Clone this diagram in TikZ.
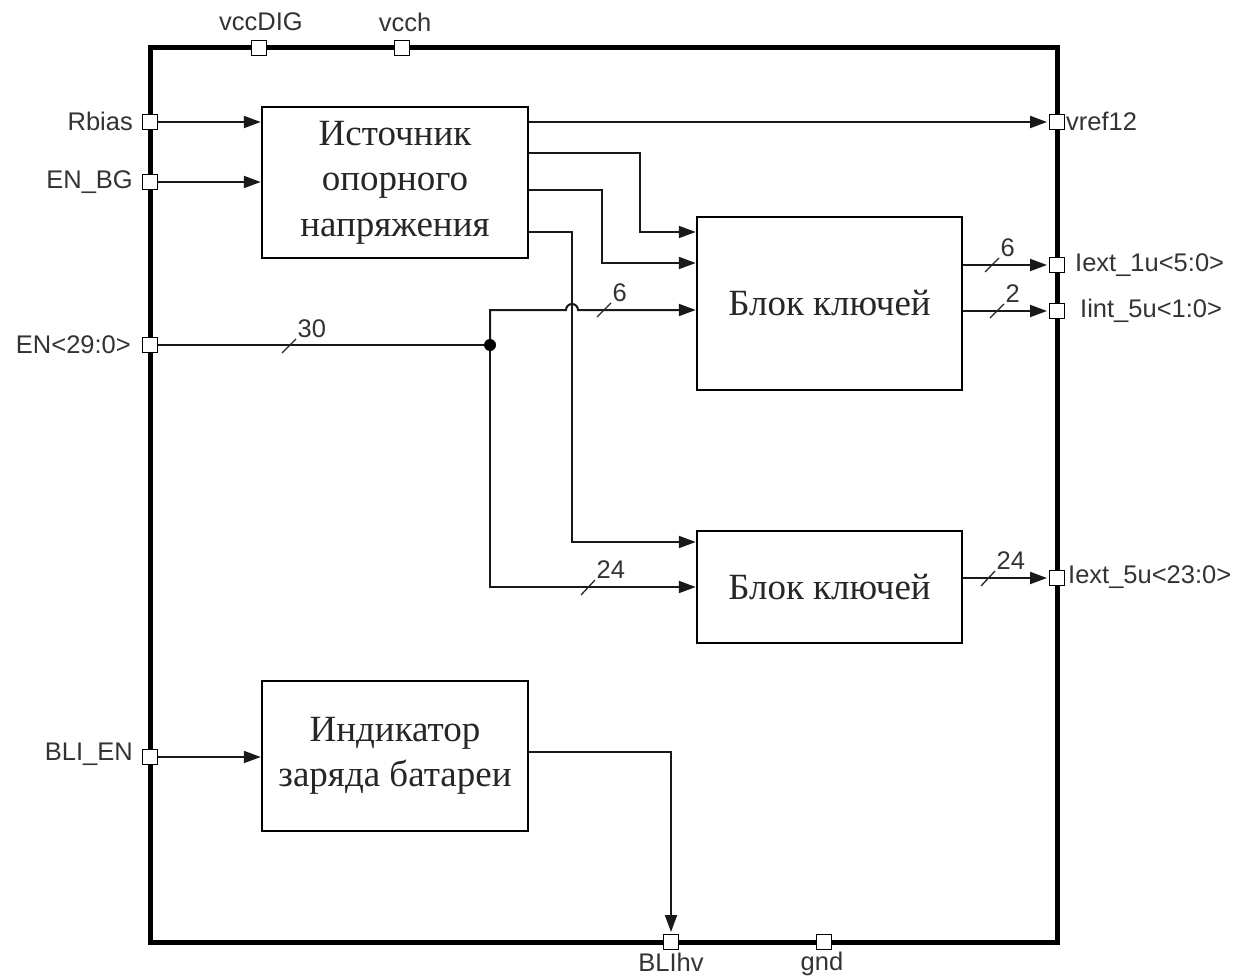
\documentclass[tikz,border=0pt]{standalone}
\usepackage{fontspec}
\setmainfont{Liberation Serif}
\newfontfamily\lab{Liberation Sans}
\usetikzlibrary{arrows.meta,calc}
\tikzset{
 chipframe/.style={draw, line width=5pt, minimum width=907pt, minimum height=894pt, inner sep=0pt},
 blk/.style={draw, line width=2.5pt, inner sep=0pt, align=center, font=\fontsize{37}{45.5}\selectfont, text=black!85},
 pin/.style={draw, fill=white, line width=1.4pt, minimum size=14.5pt, inner sep=0pt},
 wire/.style={line width=2pt, black!90},
 arr/.style={wire, -{Triangle[length=17pt,width=12pt]}},
 lbl/.style={font=\lab\fontsize{25.5}{28}\selectfont, text=black!80, inner sep=0pt},
 bus/.style={line width=1.3pt, black!85},
 busn/.style={font=\lab\fontsize{25.5}{28}\selectfont, text=black!80, inner sep=1pt, anchor=south west}
}
\begin{document}
\begin{tikzpicture}[x=1pt,y=-1pt]
\useasboundingbox (0,0) rectangle (1240,979);
% chip frame
\node[chipframe] (chip) at (603.5,495) {};
% blocks
\node[blk, minimum width=266pt, minimum height=151pt] (b1) at (395,182.5) {Источник\\опорного\\напряжения};
\node[blk, minimum width=265pt, minimum height=173pt] (b2) at (829.5,303.5) {Блок ключей};
\node[blk, minimum width=265pt, minimum height=112pt] (b3) at (829.5,587) {Блок ключей};
\node[blk, minimum width=266pt, minimum height=150pt] (b4) at (395,756) {Индикатор\\заряда батареи};
% junction
\coordinate (j) at (490,345);
% connectors
\draw[arr] (240,122) -- (b1.west |- 0,122);
\draw[arr] (240,182) -- (b1.west |- 0,182);
\draw[arr] (b1.east |- 0,122) -- (1047,122);
\draw[arr] (b1.east |- 0,153) -| (640,232) -- (b2.west |- 0,232);
\draw[arr] (b1.east |- 0,190) -| (602,263) -- (b2.west |- 0,263);
\draw[arr] (b1.east |- 0,232) -| (572,542) -- (b3.west |- 0,542);
\draw[wire] (157,345) -- (j);
\draw[arr] (j) |- (566,310) arc[start angle=180, end angle=360, radius=6] -- (b2.west |- 0,310);
\draw[arr] (j) |- (b3.west |- 0,587);
\fill[black] (j) circle (6);
\draw[arr] (b2.east |- 0,265) -- (1047,265);
\draw[arr] (b2.east |- 0,311) -- (1047,311);
\draw[arr] (b3.east |- 0,578) -- (1047,578);
\draw[arr] (157,757) -- (b4.west |- 0,757);
\draw[arr] (b4.east |- 0,752) -| (671,932);
% short lines from pins (drawn under pins)
\draw[wire] (157,122) -- (245,122);
\draw[wire] (157,182) -- (245,182);
\draw[wire] (157,757) -- (245,757);
% pins
\node[pin] (pVccDIG) at (259,48) {};
\node[pin] (pVcch) at (402,48) {};
\node[pin] (pRbias) at (150,122) {};
\node[pin] (pENBG) at (150,182) {};
\node[pin] (pEN) at (150,345) {};
\node[pin] (pBLIEN) at (150,757) {};
\node[pin] (pVref) at (1057,122) {};
\node[pin] (pI1) at (1057,265) {};
\node[pin] (pI2) at (1057,311) {};
\node[pin] (pI3) at (1057,578) {};
\node[pin] (pBLIhv) at (671,942) {};
\node[pin] (pGnd) at (824,942) {};
% pin labels
\node[lbl] (tVccDIG) at (261,22) {vccDIG};
\node[lbl] (tVcch) at (405,22) {vcch};
\node[lbl, anchor=east] (tRbias) at (133,121) {Rbias};
\node[lbl, anchor=east] (tENBG) at (133,182) {EN\_BG};
\node[lbl, anchor=east] (tEN) at (131,345) {EN<29:0>};
\node[lbl, anchor=east] (tBLIEN) at (133,754) {BLI\_EN};
\node[lbl, anchor=west] (tVref) at (1066,121) {vref12};
\node[lbl, anchor=west] (tI1) at (1075,265) {Iext\_1u<5:0>};
\node[lbl, anchor=west] (tI2) at (1080,311) {Iint\_5u<1:0>};
\node[lbl, anchor=west] (tI3) at (1068,577) {Iext\_5u<23:0>};
\node[lbl] (tBLIhv) at (671,962) {BLIhv};
\node[lbl] (tGnd) at (822,964) {gnd};
% bus width marks
\draw[bus] (282,353) -- (296,339) node[busn] (n30) {30};
\draw[bus] (597,317) -- (611,303) node[busn] (n6a) {6};
\draw[bus] (581,595) -- (595,580) node[busn] (n24a) {24};
\draw[bus] (985,272) -- (999,258) node[busn] (n6b) {6};
\draw[bus] (990,318) -- (1004,304) node[busn] (n2) {2};
\draw[bus] (981,586) -- (995,571) node[busn] (n24b) {24};
\end{tikzpicture}
\end{document}
